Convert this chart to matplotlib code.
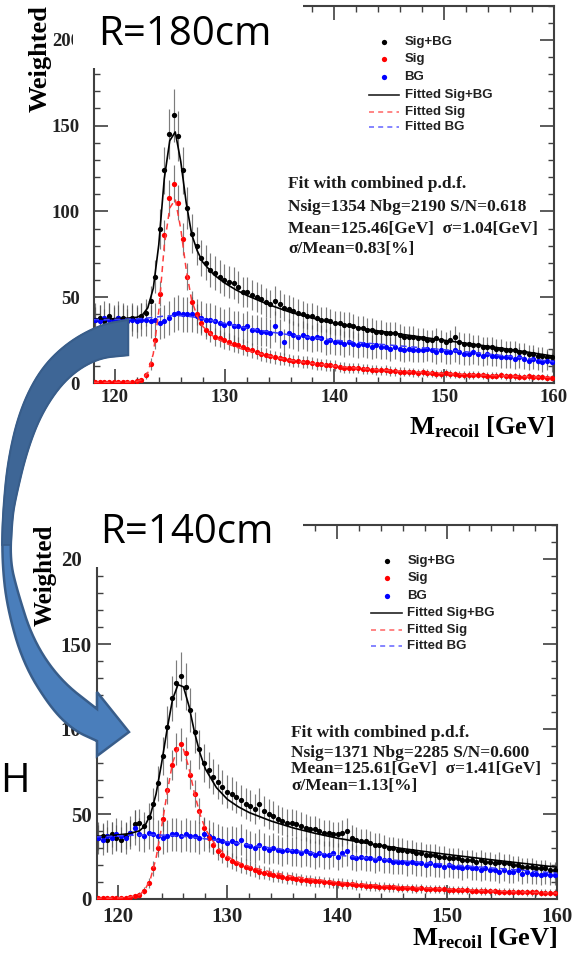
import numpy as np
import matplotlib
matplotlib.use("Agg")
import matplotlib.pyplot as plt
from matplotlib.patches import Polygon, Rectangle
from matplotlib.ticker import MultipleLocator

plt.rcParams['mathtext.fontset'] = 'custom'
plt.rcParams['mathtext.rm'] = 'Liberation Serif:bold'
plt.rcParams['mathtext.it'] = 'Liberation Serif:italic:bold'
plt.rcParams['mathtext.bf'] = 'Liberation Serif:bold'

# ------------------------------------------------------------------ data
bin_lo, bin_hi, n_bins = 118.0, 160.0, 100
centers = bin_lo + (np.arange(n_bins) + 0.5) * (bin_hi - bin_lo) / n_bins

# R = 180 cm
top_sig = [0.3, 0.4, 0.3, 0.5, 0.4, 0.5, 0.6, 0.5, 0.8, 1.0,
           1.6, 4.5, 11, 25, 52, 86, 108, 116, 105, 84,
           62, 47, 40, 35, 31, 29, 27, 26, 25, 24,
           23, 22, 21, 20, 19, 18, 17, 16.5, 15.5, 15,
           14.5, 14, 13.5, 13, 12.8, 12.3, 12, 11.5, 11.2, 10.8,
           10.5, 10.2, 10.0, 9.3, 9.0, 8.9, 8.6, 8.9, 8.1, 8.0,
           7.8, 7.5, 7.3, 7.6, 7.0, 6.8, 6.7, 6.5, 6.3, 6.2,
           6.0, 6.3, 5.7, 5.6, 5.5, 5.4, 5.6, 5.1, 5.0, 4.9,
           4.8, 4.7, 4.6, 4.9, 4.4, 4.3, 4.2, 4.1, 4.4, 3.9,
           3.8, 3.8, 3.7, 3.6, 3.9, 3.4, 3.4, 3.3, 3.2, 3.1]
top_bg = [37, 36, 38, 37, 36, 38, 37, 36, 37, 36,
          37, 37, 36, 37, 35, 36, 38, 40, 41, 40,
          40, 40, 39, 38, 37, 37, 36, 35, 34, 35,
          33, 33, 32, 33, 31, 31, 30, 30, 29, 33,
          29, 24, 29, 28, 27, 28, 27, 26, 27, 26,
          24, 25, 24, 24, 23, 24, 23, 22, 23, 22,
          21, 22, 21, 21, 20, 21, 20, 19, 20, 19,
          19, 19, 20, 19, 18, 19, 18, 18, 19, 18,
          17, 17, 18, 17, 16, 17, 16, 16, 15, 15,
          15, 14, 15, 14, 13, 14, 13, 12, 13, 12]
top_tot = [37, 38, 36, 39, 37, 38, 38, 36, 38, 37,
           39, 41, 48, 62, 90, 124, 145, 156, 144, 124,
           102, 87, 80, 73, 70, 66, 64, 62, 60, 59,
           58, 56, 53, 53, 51, 50, 49, 47, 46, 48,
           46, 44, 43, 42, 41, 40, 39, 39, 38, 37,
           37, 36, 35, 35, 34, 34, 33, 32, 32, 31,
           31, 30, 30, 29, 29, 29, 28, 27, 27, 27,
           26, 26, 25, 25, 26, 25, 24, 25, 27, 24,
           23, 23, 22, 22, 21, 21, 21, 20, 20, 19,
           19, 19, 18, 18, 17, 17, 16, 16, 15, 15]

# R = 140 cm
bot_sig = [0.3, 0.3, 0.4, 0.3, 0.5, 0.6, 0.8, 1.0, 1.5, 2.5,
           5, 9.5, 18, 30, 47, 64, 79, 88, 91, 86,
           73, 62, 52, 42, 36, 32, 28, 26, 24, 22.5,
           21, 20, 19, 18, 17, 16, 15.5, 15, 14, 13.5,
           13, 12.6, 12.2, 11.8, 11.4, 11, 10.8, 10.5, 10.3, 10,
           9.8, 9.5, 9.3, 9.1, 8.8, 8.6, 8.3, 8.1, 7.9, 7.7,
           7.5, 7.3, 7.2, 7.0, 6.8, 6.7, 6.5, 6.4, 6.2, 6.1,
           6.2, 6.0, 5.9, 5.8, 5.7, 5.6, 5.5, 5.4, 5.3, 5.2,
           5.1, 5.0, 4.9, 4.8, 4.7, 4.6, 4.5, 4.4, 4.4, 4.3,
           4.2, 4.1, 4.1, 4.0, 3.9, 3.9, 3.8, 3.8, 3.7, 3.7]
bot_bg = [36, 35, 37, 36, 38, 37, 36, 39, 42, 38,
          37, 39, 38, 37, 36, 37, 38, 38, 37, 38,
          37, 37, 36, 38, 37, 36, 35, 34, 33, 34,
          33, 35, 32, 31, 30, 32, 30, 29, 30, 29,
          28, 29, 28, 28, 27, 28, 27, 26, 27, 26,
          26, 27, 25, 27, 28, 25, 24, 25, 24, 24,
          23, 24, 23, 23, 22, 22, 22, 21, 22, 21,
          21, 20, 21, 20, 20, 19, 20, 19, 19, 18,
          19, 18, 18, 17, 18, 17, 17, 16, 17, 16,
          16, 17, 15, 16, 15, 15, 14, 15, 14, 14]
bot_tot = [36, 37, 35, 38, 36, 35, 37, 39, 44, 45,
           43, 48, 56, 68, 84, 101, 118, 127, 131, 125,
           111, 98, 88, 80, 76, 72, 69, 66, 63, 62,
           60, 58, 56, 55, 53, 56, 52, 50, 49, 47,
           46, 45, 45, 44, 43, 42, 41, 41, 40, 39,
           39, 38, 38, 39, 40, 36, 35, 34, 34, 33,
           32, 32, 31, 30, 30, 29, 29, 28, 28, 27,
           27, 26, 26, 26, 25, 25, 24, 24, 24, 23,
           23, 23, 22, 23, 22, 22, 21, 22, 21, 21,
           20, 20, 19, 19, 19, 18, 18, 18, 17, 17]

# fitted curves, sampled in GeV
fit_x = [118, 119, 120, 121, 122, 122.5, 123, 123.5, 124, 124.5, 125, 125.5, 126,
         126.5, 127, 127.5, 128, 129, 130, 131, 132, 134, 136, 138, 140, 143,
         146, 150, 154, 157, 160]
top_fit_sig = [0.3, 0.3, 0.4, 0.5, 0.9, 2, 6, 17, 42, 80, 102, 107, 90, 66, 48, 39,
               33, 27, 23.5, 21, 19, 15.8, 13.2, 11.4, 9.9, 8.1, 6.9, 5.5, 4.5, 3.8, 3.2]
top_fit_bg = [37.0, 37.0, 37.1, 37.2, 37.4, 37.6, 37.9, 38.2, 38.6, 39.0, 39.2, 39.3,
              39.2, 39.0, 38.6, 38.1, 37.5, 36.2, 34.8, 33.4, 32.1, 29.9, 28.0, 26.4,
              25.0, 23.2, 21.6, 19.4, 16.9, 14.8, 12.4]
top_fit_tot = [37.3, 37.3, 37.5, 37.7, 38.3, 39.6, 43.8, 55.2, 80.6, 119.0, 141.2, 146.3,
               129.2, 105.0, 86.6, 77.1, 70.5, 63.2, 58.3, 54.4, 51.1, 45.7, 41.2, 37.8,
               34.9, 31.3, 28.5, 24.9, 21.4, 18.6, 15.6]
bot_fit_sig = [0.3, 0.4, 0.6, 1.0, 2.5, 5.5, 12, 24, 42, 62, 80, 89, 88, 77, 62, 50, 41,
               31, 25, 21.5, 19, 15.8, 13.3, 11.5, 10.0, 8.4, 7.2, 5.9, 4.8, 4.1, 3.5]
bot_fit_bg = [36.5, 36.8, 37.1, 37.4, 37.6, 37.7, 37.7, 37.7, 37.6, 37.5, 37.3, 37.1,
              36.8, 36.5, 36.2, 35.8, 35.4, 34.5, 33.6, 32.7, 31.8, 30.0, 28.5, 27.1,
              25.8, 24.0, 22.4, 20.3, 18.3, 16.8, 15.2]
bot_fit_tot = [36.8, 37.2, 37.7, 38.4, 40.1, 43.2, 49.7, 61.7, 79.6, 99.5, 117.3, 126.1,
               124.8, 113.5, 98.2, 85.8, 76.4, 65.5, 58.6, 54.2, 50.8, 45.8, 41.8, 38.6,
               35.8, 32.4, 29.6, 26.2, 23.1, 20.9, 18.7]

# per-series event weight used for the error bars (sqrt(w*N))
w_tot, w_bg, w_sig = 1.5, 2.5, 1.0

legend_labels = ["Sig+BG", "Sig", "BG", "Fitted Sig+BG", "Fitted Sig", "Fitted BG"]
top_stats = ["Fit with combined p.d.f.",
             "Nsig=1354 Nbg=2190 S/N=0.618",
             "Mean=125.46[GeV]  \u03c3=1.04[GeV]",
             "\u03c3/Mean=0.83[%]"]
bot_stats = ["Fit with combined p.d.f.",
             "Nsig=1371 Nbg=2285 S/N=0.600",
             "Mean=125.61[GeV]  \u03c3=1.41[GeV]",
             "\u03c3/Mean=1.13[%]"]

# ------------------------------------------------------------------ figure
W, H = 577, 958
fig = plt.figure(figsize=(W / 100, H / 100), dpi=100)
fig.patch.set_facecolor('white')

SERIF = 'Liberation Serif'
SANS = 'Liberation Sans'
BLUE = '#0000ff'
RED = '#ff0000'


def fx(x):
    return x / W


def fy(y):
    return 1 - y / H


def make_axes(left, top, right, bottom):
    return fig.add_axes([fx(left), fy(bottom), (right - left) / W, (bottom - top) / H])


def style(ax, tick_fs, ypad, xpad):
    ax.set_xlim(118.1, 160)
    ax.set_ylim(0, 220)
    ax.xaxis.set_major_locator(MultipleLocator(10))
    ax.xaxis.set_minor_locator(MultipleLocator(2))
    ax.yaxis.set_major_locator(MultipleLocator(50))
    ax.yaxis.set_minor_locator(MultipleLocator(10))
    ax.tick_params(which='both', direction='in', top=True, right=True, color='#404040')
    ax.tick_params(which='major', length=10, width=1.2)
    ax.tick_params(which='minor', length=4, width=1.0)
    ax.tick_params(axis='y', pad=ypad)
    ax.tick_params(axis='x', pad=xpad)
    for lbl in ax.get_xticklabels() + ax.get_yticklabels():
        lbl.set_fontfamily(SERIF)
        lbl.set_fontweight('bold')
        lbl.set_fontsize(tick_fs)
        lbl.set_color('#222222')
    for sp in ax.spines.values():
        sp.set_linewidth(1.5)
        sp.set_color('#404040')


def draw_panel(ax, sig, bg, tot, fsig, fbg, ftot):
    series = [(np.asarray(tot, float), 'black', w_tot),
              (np.asarray(bg, float), BLUE, w_bg),
              (np.asarray(sig, float), RED, w_sig)]
    for vals, col, w in series:
        ax.errorbar(centers, vals, yerr=np.sqrt(w * vals), fmt='none',
                    ecolor='#505050', elinewidth=0.85, alpha=0.75, zorder=2)
    for vals, col, w in series:
        ax.plot(centers, vals, 'o', color=col, ms=3.8, mew=0, zorder=3)
    ax.plot(fit_x, ftot, '-', color='black', lw=1.2, zorder=5)
    ax.plot(fit_x, fsig, '--', color='#ff3b3b', lw=1.1, dashes=(4, 3), zorder=5)
    ax.plot(fit_x, fbg, '--', color='#3b3bff', lw=1.1, dashes=(4, 3), zorder=5)


def draw_legend(ax):
    ys = [0.903, 0.857, 0.811, 0.764, 0.718, 0.677]
    styles = [('o', 'black'), ('o', RED), ('o', BLUE),
              ('-', '#222222'), ('--', '#ff7070'), ('--', '#7070ff')]
    for y, (st, col), lab in zip(ys, styles, legend_labels):
        if st == 'o':
            ax.plot([0.630], [y], 'o', color=col, ms=3.8, mew=0, transform=ax.transAxes, zorder=6)
        else:
            ax.plot([0.597, 0.664], [y, y], st, color=col, lw=1.2, transform=ax.transAxes,
                    zorder=6, **({'dashes': (3, 2.5)} if st == '--' else {}))
        ax.text(0.675, y, lab, transform=ax.transAxes, ha='left', va='center',
                fontsize=9.5, fontweight='bold', family=SANS, color='#222222', zorder=6)


def draw_stats(ax, lines, ys):
    for s, y in zip(lines, ys):
        ax.text(135.8, y, s, ha='left', va='center', fontsize=12.5, family=SERIF,
                fontweight='bold', color='#1a1a1a', zorder=6)


# top panel (R = 180 cm)
ax_top = make_axes(94, 5.5, 554, 383)
draw_panel(ax_top, top_sig, top_bg, top_tot, top_fit_sig, top_fit_bg, top_fit_tot)
style(ax_top, 13.5, 10, 4.5)
draw_legend(ax_top)
draw_stats(ax_top, top_stats, [116, 102.3, 90, 78])
ax_top.text(1.0, -0.135, r'M$_{\mathrm{recoil}}$ [GeV]', transform=ax_top.transAxes,
            ha='right', va='baseline', fontsize=19, family=SERIF, fontweight='bold')
ax_top.text(-0.117, 1.0, 'Weighted', transform=ax_top.transAxes, rotation=90,
            ha='center', va='top', fontsize=19, family=SERIF, fontweight='bold')

# bottom panel (R = 140 cm)
ax_bot = make_axes(96.7, 525, 557, 899)
draw_panel(ax_bot, bot_sig, bot_bg, bot_tot, bot_fit_sig, bot_fit_bg, bot_fit_tot)
style(ax_bot, 15, 3.5, 5.5)
draw_legend(ax_bot)
draw_stats(ax_bot, bot_stats, [97.7, 86, 76.7, 66.6])
ax_bot.text(1.0, -0.123, r'M$_{\mathrm{recoil}}$ [GeV]', transform=ax_bot.transAxes,
            ha='right', va='baseline', fontsize=19, family=SERIF, fontweight='bold')
ax_bot.text(-0.112, 1.0, 'Weighted', transform=ax_bot.transAxes, rotation=90,
            ha='center', va='top', fontsize=18, family=SERIF, fontweight='bold')

# white boxes behind the slide titles
for (x0, y0, x1, y1) in [(73, 0, 303, 68), (81, 470, 303, 567)]:
    fig.add_artist(Rectangle((fx(x0), fy(y1)), (x1 - x0) / W, (y1 - y0) / H,
                             transform=fig.transFigure, facecolor='white',
                             edgecolor='none', zorder=8))


# curved arrow overlay (slide decoration), in pixel coordinates
def chaikin(pts, n=3):
    pts = np.asarray(pts, float)
    for _ in range(n):
        q = 0.75 * pts[:-1] + 0.25 * pts[1:]
        r = 0.25 * pts[:-1] + 0.75 * pts[1:]
        new = np.empty((2 * len(q), 2))
        new[0::2] = q
        new[1::2] = r
        pts = np.vstack([pts[:1], new, pts[-1:]])
    return pts


def to_fig(pts):
    pts = np.asarray(pts, float)
    return np.column_stack([pts[:, 0] / W, 1 - pts[:, 1] / H])


outer = [(128, 320), (100, 325), (67, 343), (40, 370), (20, 410), (8, 460), (3, 513),
         (2, 560), (7, 607), (23, 663), (50, 707), (73, 730), (97, 741)]
head = [(97, 756), (129, 732), (97, 692)]
inner = [(97, 709), (60, 680), (33, 640), (17, 590), (10, 560), (12, 520), (15, 500),
         (27, 450), (43, 410), (67, 377), (97, 358), (128, 355)]
full = np.vstack([chaikin(outer), head, chaikin(inner)])
fig.add_artist(Polygon(to_fig(full), closed=True, transform=fig.transFigure,
                       facecolor='#4a7ebb', edgecolor='#385d8a', lw=1.8, zorder=9))

outer_tail = [(128, 320), (100, 325), (67, 343), (40, 370), (20, 410), (8, 460), (3, 513), (2, 545)]
inner_tail = [(11, 545), (12, 520), (15, 500), (27, 450), (43, 410), (67, 377), (97, 358), (128, 355)]
tail = np.vstack([chaikin(outer_tail), chaikin(inner_tail)])
fig.add_artist(Polygon(to_fig(tail), closed=True, transform=fig.transFigure,
                       facecolor='#3e6696', edgecolor='#385d8a', lw=1.2, zorder=9.5))

# slide texts
TITLE_FONT = 'Open Sans'
fig.text(fx(98), fy(45), 'R=180cm', ha='left', va='baseline', fontsize=29,
         family=TITLE_FONT, color='black', zorder=10)
fig.text(fx(100), fy(543), 'R=140cm', ha='left', va='baseline', fontsize=29,
         family=TITLE_FONT, color='black', zorder=10)
fig.text(fx(0), fy(792), 'H', ha='left', va='baseline', fontsize=29,
         family=TITLE_FONT, color='black', zorder=10)

fig.savefig('out.png', dpi=100, facecolor='white')
